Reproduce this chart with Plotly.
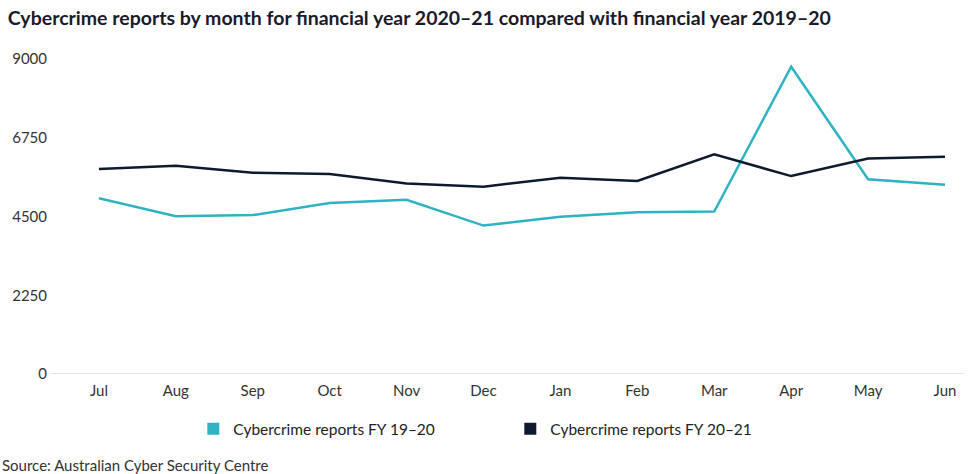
import plotly.graph_objects as go

months = ["Jul", "Aug", "Sep", "Oct", "Nov", "Dec", "Jan", "Feb", "Mar", "Apr", "May", "Jun"]
fy_19_20 = [5020, 4505, 4540, 4885, 4980, 4240, 4495, 4620, 4640, 8780, 5565, 5410]
fy_20_21 = [5855, 5950, 5750, 5715, 5440, 5350, 5610, 5515, 6275, 5655, 6155, 6205]
y_ticks = [0, 2250, 4500, 6750, 9000]

name_a = "Cybercrime reports FY 19–20"
name_b = "Cybercrime reports FY 20–21"
col_a = "#2db3c2"
col_b = "#0d1a30"

fig = go.Figure()
x_idx = list(range(len(months)))
fig.add_trace(go.Scatter(x=x_idx, y=fy_19_20, mode="lines", line=dict(color=col_a, width=2.5),
                         showlegend=False, name=name_a))
fig.add_trace(go.Scatter(x=x_idx, y=fy_20_21, mode="lines", line=dict(color=col_b, width=2.5),
                         showlegend=False, name=name_b))
# square legend keys
fig.add_trace(go.Scatter(x=[None], y=[None], mode="markers", name=name_a,
                         marker=dict(symbol="square", size=16, color=col_a)))
fig.add_trace(go.Scatter(x=[None], y=[None], mode="markers", name=name_b,
                         marker=dict(symbol="square", size=16, color=col_b)))

font_family = "Lato, sans-serif"
fig.update_layout(
    width=975, height=474,
    margin=dict(l=62, r=5, t=59, b=100),
    paper_bgcolor="white", plot_bgcolor="white",
    font=dict(family=font_family, color="#333333", size=14),
    title=dict(text="<b>Cybercrime reports by month for financial year 2020–21 compared with financial year 2019–20</b>",
               x=0.008, xanchor="left", y=0.962, yanchor="middle",
               font=dict(size=19.5, color="#1a1a2a")),
    showlegend=True,
    legend=dict(orientation="h", x=141 / 975, xanchor="left", y=-0.175, yanchor="middle",
                entrywidth=272, entrywidthmode="pixels",
                font=dict(size=15.5, color="#222222"), itemsizing="constant"),
    xaxis=dict(tickmode="array", tickvals=x_idx, ticktext=months, range=[-0.48, 11.325],
               showgrid=False, zeroline=False, showline=False, ticks="", ticklabelstandoff=6,
               tickfont=dict(size=15, color="#333333")),
    yaxis=dict(tickmode="array", tickvals=y_ticks, ticktext=[str(v) for v in y_ticks], range=[0, 9000],
               showgrid=False, zeroline=False, showline=False, ticks="", ticklabelstandoff=14,
               tickfont=dict(size=15, color="#333333")),
    shapes=[dict(type="line", xref="paper", yref="y", x0=-0.012, x1=0.993, y0=0, y1=0,
                 line=dict(color="#d9d9d9", width=1.5))],
    annotations=[dict(text="Source: Australian Cyber Security Centre", xref="paper", yref="paper",
                      x=-62 / 908, xanchor="left", y=-0.289, yanchor="middle", showarrow=False,
                      font=dict(size=15, color="#333333"))],
)

fig.write_html("out.html")
